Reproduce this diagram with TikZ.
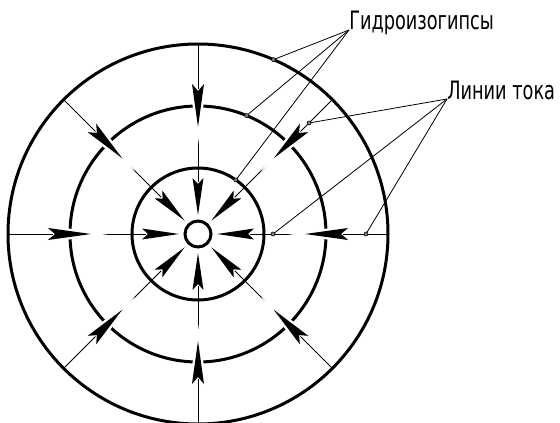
\documentclass[tikz,border=0pt]{standalone}
\usepackage{fontspec}
\newfontfamily\gostfont[FakeStretch=0.7]{DejaVu Sans}

\begin{document}
\begin{tikzpicture}[x=0.25mm,y=0.25mm,
    iso/.style={line width=0.75mm},
    ray/.style={line width=0.25mm},
    leader/.style={line width=0.2mm},
    tag/.style={font=\gostfont\fontsize{18}{20}\selectfont,inner sep=0pt,anchor=base west},
    spot/.style={fill=gray,draw=black,line width=0.15mm}]
\useasboundingbox (-198,-188) rectangle (362,234);
\draw[iso] (0,0) circle (13);
\draw[iso] (0,0) circle (66);
\draw[iso] (0,0) circle (128);
\draw[iso] (0,0) circle (190);
\foreach \a in {0,45,...,315}{
    \draw[ray] (\a:97) -- (\a:52);
    \fill[rotate=\a,preaction={draw=white,line width=1.2mm}]
        (150,6) -- (107,0) -- (150,-6) -- (143,0) -- cycle;
    \draw[ray] (\a:190) -- (\a:145);
    \fill[rotate=\a] (56,5.5) -- (19,0) -- (56,-5.5) -- (50,0) -- cycle;
}
\node[tag] (hydro) at (151,204) {Гидроизогипсы};
\node[tag] (flow) at (249,135) {Линии тока};
\coordinate (h1) at (66.6:190);
\coordinate (h2) at (67.7:128);
\coordinate (h3) at (55:66);
\coordinate (f1) at (45:157);
\coordinate (f2) at (0:75);
\coordinate (f3) at (0:168);
\foreach \p in {h1,h2,h3}
    \draw[leader] (hydro.base west) -- (\p);
\foreach \p in {f1,f2,f3}
    \draw[leader] (flow.base west) -- (\p);
\foreach \p in {h1,h2,h3,f1,f2,f3}
    \filldraw[spot] (\p) circle (2);
\end{tikzpicture}
\end{document}
